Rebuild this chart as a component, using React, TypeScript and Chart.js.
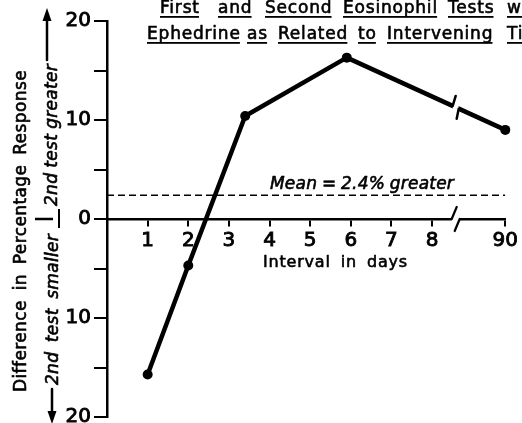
import React, { useEffect, useRef } from 'react';
import { Chart, registerables } from 'chart.js';

Chart.register(...registerables);

// ---- Text ----
const TITLE_LINE_1 = ['First', 'and', 'Second', 'Eosinophil', 'Tests', 'with'];
const TITLE_LINE_2 = ['Ephedrine', 'as', 'Related', 'to', 'Intervening', 'Time'];
const Y_TITLE = 'Difference in Percentage Response';
const Y_UP_LABEL = '2nd test greater';
const Y_DOWN_LABEL = '2nd test smaller';
const X_TITLE = 'Interval in days';
const MEAN_LABEL = ['Mean', '=', '2.4%', 'greater'];

// ---- Data ----
const intervalDays = [1, 2, 3.4, 5.9, 90];
const responseDiff = [-15.7, -4.7, 10.4, 16.3, 9.0];
const MEAN_DIFF = 2.4;
const xTickDays = [1, 2, 3, 4, 5, 6, 7, 8, 90];
const yTickValues = [-20, -15, -10, -5, 0, 5, 10, 15, 20];

// ---- Broken axis transform ----
const LAST_CONTINUOUS_DAY = 8;
const BROKEN_AXIS_SLOT = 9.8; // axis slot where the day after the break is drawn
const BREAK_AT = 8.58;
const axisPos = (d: number) => (d <= LAST_CONTINUOUS_DAY ? d : BROKEN_AXIS_SLOT);

const FONT = '"DejaVu Sans", sans-serif';
const TEXT_STROKE = 0.6;

function spreadText(ctx: CanvasRenderingContext2D, words: string[], x: number, baseline: number, total: number) {
  const widths = words.map((w) => ctx.measureText(w).width);
  const sum = widths.reduce((a, b) => a + b, 0);
  const gap = words.length > 1 ? (total - sum) / (words.length - 1) : 0;
  let cx = x;
  words.forEach((w, i) => {
    ctx.fillText(w, cx, baseline);
    ctx.lineWidth = TEXT_STROKE;
    ctx.strokeText(w, cx, baseline);
    cx += widths[i] + gap;
  });
}

function line(ctx: CanvasRenderingContext2D, x1: number, y1: number, x2: number, y2: number, w: number) {
  ctx.lineWidth = w;
  ctx.beginPath();
  ctx.moveTo(x1, y1);
  ctx.lineTo(x2, y2);
  ctx.stroke();
}

const annotationPlugin = {
  id: 'annotationPlugin',
  afterDraw(chart: any) {
    const { ctx, scales } = chart;
    const xs = scales.x;
    const ys = scales.y;
    ctx.save();
    ctx.fillStyle = '#000';
    ctx.strokeStyle = '#000';
    ctx.lineCap = 'round';
    ctx.lineJoin = 'round';
    ctx.textBaseline = 'alphabetic';
    ctx.textAlign = 'left';

    // Title with underlined words
    ctx.font = `17px ${FONT}`;
    (ctx as any).letterSpacing = '0.8px';
    const t1x = [160, 218, 265, 343, 448, 507];
    const t2x = [147, 247, 278, 358, 387, 507];
    const drawTitle = (words: string[], xsPos: number[], base: number) => {
      words.forEach((w, i) => {
        ctx.fillText(w, xsPos[i], base);
        ctx.lineWidth = TEXT_STROKE;
        ctx.strokeText(w, xsPos[i], base);
        const wd = ctx.measureText(w).width - 0.8;
        ctx.fillRect(xsPos[i], base + 3, wd, 1.8);
      });
    };
    drawTitle(TITLE_LINE_1, t1x, 13);
    drawTitle(TITLE_LINE_2, t2x, 39);

    // Y axis title (rotated)
    ctx.save();
    ctx.translate(26, 392);
    ctx.rotate(-Math.PI / 2);
    ctx.font = `17px ${FONT}`;
    (ctx as any).letterSpacing = '0.4px';
    spreadText(ctx, Y_TITLE.split(' '), 0, 0, 322);
    ctx.restore();

    // Bracket labels
    ctx.save();
    ctx.font = `italic 17px ${FONT}`;
    (ctx as any).letterSpacing = '0.3px';
    ctx.save();
    ctx.translate(57, 206);
    ctx.rotate(-Math.PI / 2);
    spreadText(ctx, Y_UP_LABEL.split(' '), 0, 0, 142);
    ctx.restore();
    ctx.save();
    ctx.translate(58, 385);
    ctx.rotate(-Math.PI / 2);
    spreadText(ctx, Y_DOWN_LABEL.split(' '), 0, 0, 151);
    ctx.restore();
    ctx.restore();

    // arrows
    line(ctx, 47, 60, 47, 18, 2.5);
    ctx.beginPath();
    ctx.moveTo(47, 8);
    ctx.lineTo(42.5, 21);
    ctx.lineTo(51.5, 21);
    ctx.closePath();
    ctx.fill();
    line(ctx, 52, 389, 52, 414, 2.5);
    ctx.beginPath();
    ctx.moveTo(52, 424);
    ctx.lineTo(47.5, 411);
    ctx.lineTo(56.5, 411);
    ctx.closePath();
    ctx.fill();
    // separator
    const y0 = ys.getPixelForValue(0);
    ctx.lineCap = 'butt';
    line(ctx, 35, y0, 53, y0, 2.5);
    line(ctx, 59, y0 - 10, 59, y0 + 9, 2);
    ctx.lineCap = 'round';

    // X title
    ctx.font = `16px ${FONT}`;
    (ctx as any).letterSpacing = '0.8px';
    spreadText(ctx, X_TITLE.split(' '), 263, 267, 145);

    // Mean label
    ctx.font = `italic 17px ${FONT}`;
    (ctx as any).letterSpacing = '0.2px';
    const ym = ys.getPixelForValue(MEAN_DIFF);
    spreadText(ctx, MEAN_LABEL, 270, ym - 6, 184);
    (ctx as any).letterSpacing = '0px';

    // X-axis break
    const cx = xs.getPixelForValue(BREAK_AT);
    const a = cx - 4;
    const b = cx + 4;
    ctx.fillStyle = '#fff';
    ctx.fillRect(a, y0 - 3, b - a, 6);
    ctx.fillStyle = '#000';
    line(ctx, a, y0, a + 5, y0 - 12, 2.2);
    line(ctx, b - 5, y0 + 12, b, y0, 2.2);

    // Data line break
    const meta = chart.getDatasetMeta(0);
    const p4 = meta.data[3];
    const p5 = meta.data[4];
    const yl = (px: number) => p4.y + ((p5.y - p4.y) * (px - p4.x)) / (p5.x - p4.x);
    const la = cx - 3;
    const lb = cx + 3;
    ctx.fillStyle = '#fff';
    ctx.fillRect(la, yl(la) - 7, lb - la, yl(lb) - yl(la) + 14);
    ctx.fillStyle = '#000';
    line(ctx, la, yl(la), la + 3, yl(la) - 10, 2.5);
    line(ctx, lb - 2, yl(lb) + 10, lb, yl(lb), 2.5);

    ctx.restore();
  },
};

export default function App() {
  const canvasRef = useRef<HTMLCanvasElement | null>(null);

  useEffect(() => {
    const canvas = canvasRef.current;
    if (!canvas) return;
    const chart = new Chart(canvas, {
      type: 'line',
      data: {
        datasets: [
          {
            data: intervalDays.map((d, i) => ({ x: axisPos(d), y: responseDiff[i] })),
            borderColor: '#000',
            backgroundColor: '#000',
            borderWidth: 4.5,
            borderJoinStyle: 'round',
            borderCapStyle: 'round',
            pointRadius: 5,
            pointBackgroundColor: '#000',
            pointBorderWidth: 0,
            tension: 0,
            clip: false,
          } as any,
          {
            data: [
              { x: 0, y: MEAN_DIFF },
              { x: BROKEN_AXIS_SLOT, y: MEAN_DIFF },
            ],
            borderColor: '#000',
            borderWidth: 1.6,
            borderDash: [7, 4],
            pointRadius: 0,
            tension: 0,
          } as any,
        ],
      },
      options: {
        animation: false,
        responsive: false,
        devicePixelRatio: 1,
        layout: { padding: { left: 0, top: 21, right: 11, bottom: 6 } },
        plugins: {
          legend: { display: false },
          tooltip: { enabled: false },
          title: { display: false },
        },
        scales: {
          x: {
            type: 'linear',
            position: { y: 0 } as any,
            min: 0,
            max: BROKEN_AXIS_SLOT,
            afterBuildTicks: (s: any) => {
              s.ticks = xTickDays.map((d) => ({ value: axisPos(d) }));
            },
            ticks: {
              autoSkip: false,
              maxRotation: 0,
              color: '#000',
              textStrokeColor: '#000',
              textStrokeWidth: 0.9,
              padding: 4,
              font: { family: FONT, size: 20 },
              callback: (_v: any, i: number) => String(xTickDays[i]),
            },
            grid: { drawOnChartArea: false, drawTicks: true, tickLength: 6, color: '#000', lineWidth: 2 },
            border: { display: true, color: '#000', width: 2.5 },
          },
          y: {
            type: 'linear',
            position: 'left',
            min: -20,
            max: 20,
            afterBuildTicks: (s: any) => {
              s.ticks = yTickValues.map((v) => ({ value: v }));
            },
            afterFit: (s: any) => {
              s.width = 107;
              s.paddingTop = 0;
              s.paddingBottom = 0;
            },
            ticks: {
              autoSkip: false,
              color: '#000',
              textStrokeColor: '#000',
              textStrokeWidth: 0.9,
              padding: 3,
              font: { family: FONT, size: 20 },
              callback: (v: any) => (Number(v) % 10 === 0 ? String(Math.abs(Number(v))) : ''),
            },
            grid: { drawOnChartArea: false, drawTicks: true, tickLength: 13, color: '#000', lineWidth: 2 },
            border: { display: true, color: '#000', width: 2.5 },
          },
        },
      },
      plugins: [annotationPlugin],
    } as any);
    return () => chart.destroy();
  }, []);

  return (
    <div style={{ position: 'fixed', left: 0, top: 0, width: 522, height: 423, background: '#fff' }}>
      <canvas ref={canvasRef} width={522} height={423} style={{ display: 'block', width: 522, height: 423 }} />
    </div>
  );
}
